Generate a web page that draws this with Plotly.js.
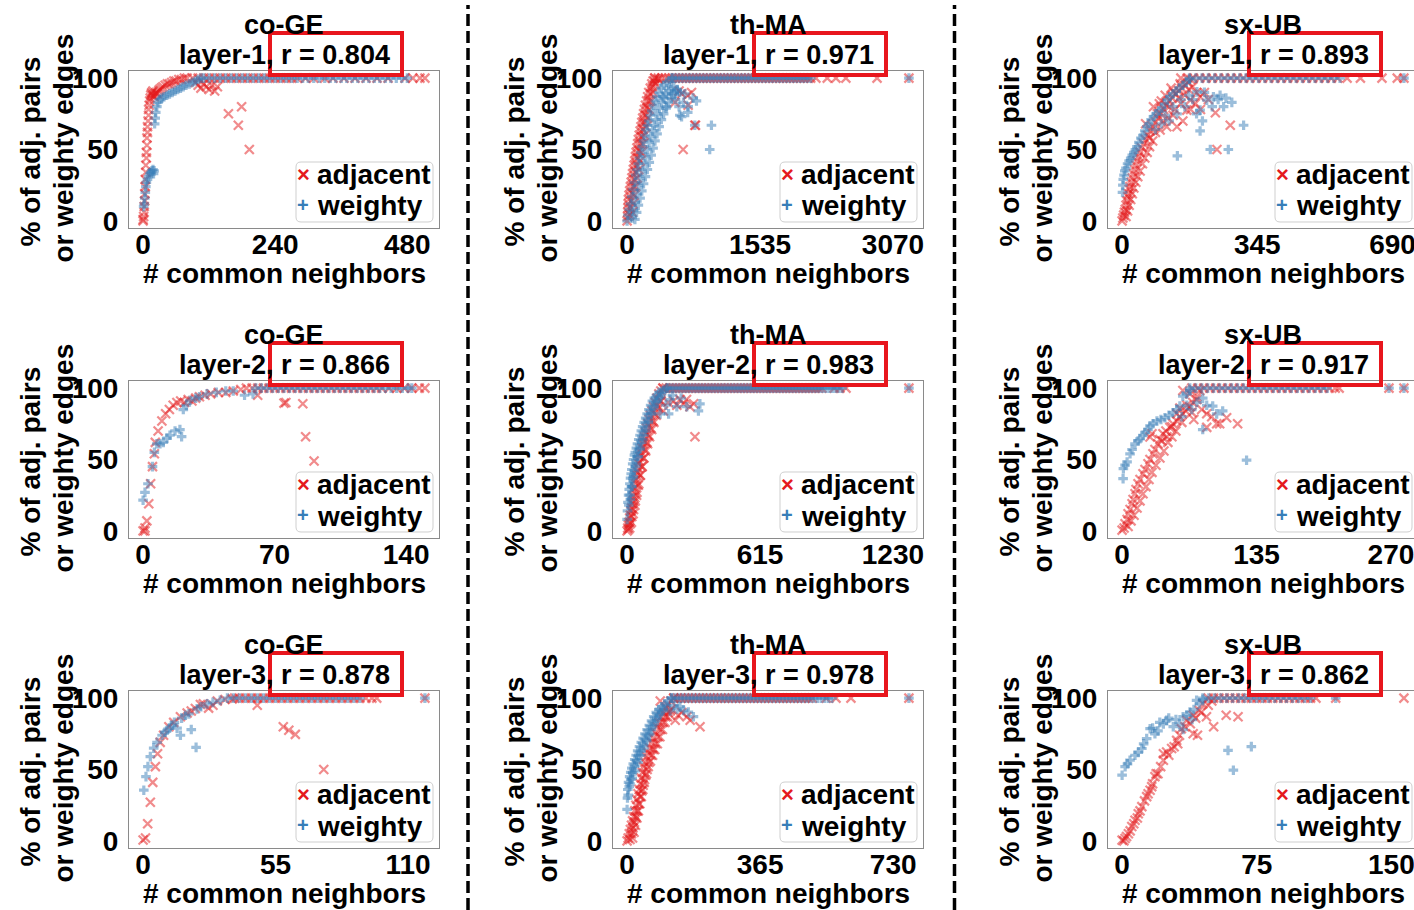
<!DOCTYPE html>
<html><head><meta charset="utf-8">
<script src="https://cdn.plot.ly/plotly-3.0.1.min.js"></script>
<style>html,body{margin:0;padding:0;overflow:hidden;background:#fff}#chart{width:1418px;height:910px}</style>
</head><body><div id="chart"></div>
<script>
// ---------------- DATA ----------------
const datasets = ['co-GE', 'th-MA', 'sx-UB'];
const layerNames = ['layer-1', 'layer-2', 'layer-3'];
const rCoGE = [0.804, 0.866, 0.878];
const rThMA = [0.971, 0.983, 0.978];
const rSxUB = [0.893, 0.917, 0.862];
const ticksCoGE = [[0, 240, 480], [0, 70, 140], [0, 55, 110]];
const ticksThMA = [[0, 1535, 3070], [0, 615, 1230], [0, 365, 730]];
const ticksSxUB = [[0, 345, 690], [0, 135, 270], [0, 75, 150]];
const yTicks = [0, 50, 100];
const seriesNames = ['adjacent', 'weighty'];
const xTitle = '# common neighbors';
const yTitleLines = ['% of adj. pairs', 'or weighty edges'];

// co-GE layer-1
const coGE1AdjX = [0,0,1,2,2,3,3,4,4,5,5,6,6,7,7,8,8,9,10,10,11,12,13,14,15,16,18,18,20,22,24,26,28,30,33,36,40,44,48,52,56,60,65,70,75,
  95,100,105,110,115,120,125,130,135, 155,173,179,193,
  80,90,100,110,120,130,140,150,160,170,180,190,200,210,220,230,240,250,260,270,280,295,310,330,345,365,385,405,425,445,476,490,503,512];
const coGE1AdjY = [0,1,3,6,10,14,19,24,29,34,39,44,48,53,58,62,66,70,74,78,81,84,86,88,89,90,88,91,87,89,90,89,91,92,93,94,95,96,96,97,98,98,99,99,100,
  97,95,93,96,94,92,95,91,94, 75,67,80,50,
  100,100,100,100,100,100,100,100,100,100, 100,100,100,100,100,100,100,100,100,100, 100,100,100,100,100,100,100,100,100,100, 100,100,100,100];
const coGE1WgtX = [1,2,3,4,5,6,8,10,12,14,16,18,20,19, 21,22,23,25,27,30,34,38,43,48,53,58,63,68,73,78,84,90,95,100,105,
  110,120,130,140,150,160,170,180,190,200,210,220,230,240,250,260,270,280,290,300,310,320,330,340,350,360,370,380,390,400,410,420,430,440,450,460,470,480];
const coGE1WgtY = [10,12,16,20,24,27,29,31,33,34,35,36,35,33, 68,72,76,80,83,85,86,87,88,89,90,91,92,93,94,95,96,97,98,99,100,
  100,100,100,100,100,100,100,100,100,100, 100,100,100,100,100,100,100,100,100,100, 100,100,100,100,100,100,100,100,100,100, 100,100,100,100,100,100,100,100];

// co-GE layer-2
const coGE2AdjX = [0,1,1,2,3,4,5,6,6.5,8,10,12,14,16,18,20,22,24,26,28,30,33,36,40,44,48,52,
  61,75,76,85,86.5,91,
  55,58,61,64,67,70,73,76,79,82,85,88,91,94,97,100,103,106,109,112,115,118,121,124,127,131,135,139,143,147,150];
const coGE2AdjY = [0,2,0,7,19,33,45,54,62,70,77,82,85,88,90,91,90,92,91,93,94,95,96,97,97,98,99,
  95,89.5,90,89,66,49,
  100,100,100,100,100,100,100,100,100,100, 100,100,100,100,100,100,100,100,100,100, 100,100,100,100,100,100,100,100,100,100, 100];
const coGE2WgtX = [0,1,2.6,5,6,7.3,9,10.8,12.7,14.3,17,19.6,20.5,21.4,23,25,28,30,34,39,44,48,54,58.5,
  60,63,66,69,72,75,78,81,84,87,90,93,96,99,102,105,108,111,114,117,120,123,126,129,132,135,138,141,143];
const coGE2WgtY = [21.5,27,33,45,55,61,61,62,65,67,70,71,66,85,88,91.5,93,94,96,97,98,98,95,96,
  100,100,100,100,100,100,100,100,100,100, 100,100,100,100,100,100,100,100,100,100, 100,100,100,100,100,100,100,100,100];

// co-GE layer-3
const coGE3AdjX = [0,1,1.9,3,4,5.1,6,7.1,8.5,10.7,12.7,15.5,18.3,21.7,23.8,27.2,30.8,34,37,20,25,29,
  47.4,58.2,60.5,63.2,75,
  38,40,42.5,45,47.5,50,52.5,55,57.5,60,62.5,65,67.5,70,72.5,75,77.5,80,82.5,85,87.5,90,92.5,95,97,117];
const coGE3AdjY = [0.6,2,12,27,41,52,61,69,74,80,83,87,89.6,92.7,95.5,93,98,99,99.5,91,96,95,
  95,80,77.5,74.6,50,
  100,100,100,100,100,100,100,100,100,100, 100,100,100,100,100,100,100,100,100,100, 100,100,100,100,100,100];
const coGE3WgtX = [0.3,1.2,2,3,4.4,5.8,7.9,9,10,11,12,13,14.1,15.5,16,17.6,19,20,22,22.4,24,26.6,29,32,
  35,37.5,40,42.5,45,47.5,50,52.5,55,57.5,60,62.5,65,67.5,70,72.5,75,77.5,80,82.5,85,87.5,90,117];
const coGE3WgtY = [35.5,45,52,59,65,69,74,76,77.5,79,81,83,79,74,86,88,89,78,65.5,92.5,94,96,97,98.4,
  100,100,100,100,100,100,100,100,100,100, 100,100,100,100,100,100,100,100,100,100, 100,100,100,100];

// th-MA layer-1
const thMA1AdjX = [0,5,8,10,12,15,22,30,38,47,55,63,72,80,88,96,104,113,122,130,140,150,160,170,180,190,200,212,225,238,250,268,285,300,320,
  60,70,85,100,118,135,152,168,185,200,218,236,255,275,298,325,360,
  30,40,52,64,76,88,100,113,126,140,154,168,182,198,214,232,250,270,292,316,
  552,629,705,744,647,782,790,700,600,
  320,360,400,440,480,520,560,600,640,680,720,760,800,840,880,920,960,1000,1040,1080,1120,1160,1200,1240,1280,1320,1360,1400,1440,1480,
  1520,1560,1600,1640,1680,1720,1760,1800,1840,1880,1920,1960,2000,2040,2080,2120,2180,2311,2411,2526,2886,3254];
const thMA1AdjY = [0,3,6,9,12,15,18,21,24,27,30,33,36,39,42,45,48,51,54,57,60,63,66,69,72,75,78,81,84,87,90,93,96,98,100,
  6,12,18,24,30,36,42,48,54,60,66,72,78,84,90,96,99,
  4,9,14,19,24,29,34,39,44,49,54,59,64,69,74,79,84,89,94,98,
  83,89,81,90,50,67,67,88,91,
  100,100,100,100,100,100,100,100,100,100, 100,100,100,100,100,100,100,100,100,100, 100,100,100,100,100,100,100,100,100,100,
  100,100,100,100,100,100,100,100,100,100, 100,100,100,100,100,100,100,100,100,100, 100,100];
const thMA1WgtX = [0,10,25,40,55,70,85,100,115,130,145,160,175,190,205,220,235,250,268,285,305,325,345,370,395,425,455,490,520,
  60,75,95,115,135,155,175,195,215,235,255,275,295,315,335,355,375,400,425,450,480,510,540,
  90,110,130,150,170,190,212,234,256,278,300,322,346,370,396,422,450,480,510,545,580,
  414,456,514,609,667,762,801,629,705,782,974,954,609,560,600,650,700,580,
  520,560,600,640,680,720,760,800,840,880,920,960,1000,1040,1080,1120,1160,1200,1240,1280,1320,1360,1400,1440,1480,1520,1560,1600,1640,1680,
  1720,1760,1800,1840,1880,1920,1960,2000,2040,2080,2120,3254];
const thMA1WgtY = [0,4,8,12,17,22,27,32,36,40,44,48,52,56,60,64,67,70,74,77,81,84,87,90,93,95,97,98,100,
  2,7,13,19,25,30,35,40,45,50,55,59,63,67,71,75,79,83,86,89,91,93,94,
  1,6,11,16,21,26,31,36,41,46,51,56,61,66,71,75,79,83,86,89,91,
  87,80,89,90,89,86,84,73,80,67,67,50,74,85,80,83,76,92,
  100,100,100,100,100,100,100,100,100,100, 100,100,100,100,100,100,100,100,100,100, 100,100,100,100,100,100,100,100,100,100,
  100,100,100,100,100,100,100,100,100,100, 100,100];

// th-MA layer-2
const thMA2AdjX = [0,3,6,9,12,15,18,21,24,27,30,33,36,39,42,45,48,51,54,57,60,64,68,72,76,80,85,90,96,102,108,115,122,130,138,147,156,166,
  12,20,28,36,44,52,60,68,76,84,92,100,110,120,130,142,155,
  6,14,22,30,38,46,54,62,70,78,86,95,104,114,124,135,146,158,
  168,215,261,291,308,314,245,230,190,275,
  166,181,196,211,226,241,256,271,286,301, 316,331,346,361,376,391,406,421,436,451, 466,481,496,511,526,541,556,571,586,601,
  616,631,646,661,676,691,706,721,736,751, 766,781,796,811,826,841,856,871,886,901, 958,985,1013,1304];
const thMA2AdjY = [0,2,4,6,9,11,14,16,19,21,24,27,30,33,36,39,41,44,47,49,52,55,58,61,63,66,69,72,75,78,81,84,87,90,93,96,98,100,
  2,6,12,18,25,32,39,45,51,57,62,67,72,77,82,87,91,
  1,5,10,15,21,27,33,39,45,51,56,61,66,71,76,81,86,91,
  84,91,89,87,89,66,92,88,90,92,
  100,100,100,100,100,100,100,100,100,100, 100,100,100,100,100,100,100,100,100,100, 100,100,100,100,100,100,100,100,100,100,
  100,100,100,100,100,100,100,100,100,100, 100,100,100,100,100,100,100,100,100,100, 100,100,100,100];
const thMA2WgtX = [0,2,4,7,10,13,16,19,22,26,30,34,38,43,48,54,60,66,72,79,86,93,101,109,117,126,136,148,160,172,185,
  15,22,30,40,50,60,72,85,98,112,126,140,155,
  8,14,20,27,34,42,50,59,68,78,88,99,110,122,134,147,160,
  153,192,230,276,330,337,199,210,250,180,
  185,200,215,230,245,260,275,290,305,320, 335,350,365,380,395,410,425,440,455,470, 485,500,515,530,545,560,575,590,605,620,
  635,650,665,680,695,710,725,740,755,770, 785,800,815,830,845,860,875,890,905,920, 935,950,965,980,995,1304];
const thMA2WgtY = [8,14,20,25,29,33,37,40,43,47,50,53,55,58,61,64,67,70,73,76,79,82,85,88,91,93,95,97,98,99,100,
  22,31,38,45,52,58,64,70,76,82,87,91,94,
  18,25,31,37,42,47,52,57,62,67,72,77,82,86,90,93,96,
  82,82,87,87,84,89,92,95,93,88,
  100,100,100,100,100,100,100,100,100,100, 100,100,100,100,100,100,100,100,100,100, 100,100,100,100,100,100,100,100,100,100,
  100,100,100,100,100,100,100,100,100,100, 100,100,100,100,100,100,100,100,100,100, 100,100,100,100,100,100];

// th-MA layer-3
const thMA3AdjX = [0,3,6,9,12,15,18,21,24,27,30,33,36,39,42,45,49,53,57,62,67,72,77,82,88,94,100,106,112,120,128,
  15,19,23,27,31,35,39,43,47,51,55,60,66,72,78,85,92,99,106,113,
  8,12,16,20,24,28,32,36,40,44,48,53,58,64,70,76,83,90,97,104,111,118,
  91,132,164,173,200,150,140,120,
  128,138,148,158,168,178,188,198,208,218, 228,238,248,258,268,278,288,298,308,318, 328,338,348,358,368,378,388,398,408,418,
  428,438,448,458,468,478,488,498,508, 546,573,614,773];
const thMA3AdjY = [0,2,5,8,11,14,17,21,25,29,33,36,40,44,48,52,55,59,62,65,69,72,76,80,83,87,90,93,95,98,100,
  2,6,11,16,21,26,31,36,41,46,50,55,60,64,68,73,78,83,87,90,
  1,5,9,13,17,21,26,31,35,39,43,47,52,56,60,64,68,73,78,83,87,91,
  98,84.5,87,84.5,80,90,88,92,
  100,100,100,100,100,100,100,100,100,100, 100,100,100,100,100,100,100,100,100,100, 100,100,100,100,100,100,100,100,100,100,
  100,100,100,100,100,100,100,100,100, 100,100,100,100];
const thMA3WgtX = [0,1,2,4,7,10,13,17,21,25,29,34,39,44,49,55,61,67,73,80,87,95,103,112,122,
  8,14,22,30,38,46,54,62,70,78,86,94,
  3,6,10,15,20,26,32,38,45,52,59,66,74,82,90,99,108,
  137,155,168,182,118,128,145,
  122,132,142,152,162,172,182,192,202,212, 222,232,242,252,262,272,282,292,302,312, 322,332,342,352,362,372,382,392,402,412,
  422,432,442,452,462,472,482,492,502,512, 522,532,542,552,562,773];
const thMA3WgtY = [22,30,36,41,45,48,51,54,57,60,63,66,69,72,75,78,81,84,87,90,92,94,96,98,100,
  40,44,49,55,60,65,70,75,80,84,88,91,
  32,38,43,48,52,56,60,63,67,71,74,78,82,86,89,92,95,
  92.5,91.4,90.3,87,91,95,94,
  100,100,100,100,100,100,100,100,100,100, 100,100,100,100,100,100,100,100,100,100, 100,100,100,100,100,100,100,100,100,100,
  100,100,100,100,100,100,100,100,100,100, 100,100,100,100,100,100];

// sx-UB layer-1
const sxUB1AdjX = [0,2,4,6,8,10,12,14,16,18,20,23,26,29,32,35,38,42,46,50,55,60,66,72,78,85,92,99,106,113,120,128,136,144,152,160,168,175,
  10,14,18,22,26,30,35,40,46,52,58,64,70,78,
  114,97,140,165,174,187,199,131,238,276,242,148,80,90,105,120,130,150,160,170,180,190,100,110,125,60,70,85,135,155,175,200,210,220,95,145,118,
  150,166,182,198,214,230,246,262,278,294,310,326,342,358,374,390,406,422,438,454,470,486,502,518,534,550,574,608,663,702,719];
const sxUB1AdjY = [0,2,4,6,8,11,14,17,19,22,24,27,30,33,36,39,42,45,48,51,54,57,60,63,66,69,72,75,78,81,84,86,89,91,93,95,97,99,
  3,7,11,15,19,23,27,31,35,40,44,48,52,56,
  66,63.6,66,77.6,84.6,82.3,86.9,90.4,75.7,67,50,96,80,75,70,80,74,82,88,92,94,90,84,88,93,68,58,62,78,70,78,78,90,85,82,86,72,
  100,100,100,100,100,100,100,100,100,100, 100,100,100,100,100,100,100,100,100,100, 100,100,100,100,100,100,100,100,100,100, 100];
const sxUB1WgtX = [1,2,3,5,7,10,14,18,22,26,30,34,38,43,48,53,58,63,68,74,80,87,94,101,108,115,122,130,138,146,155,164,172,
  199,216,233,259,199,310,225,271,141,191,180,160,140,120,100,85,150,170,210,230,250,190,130,110,245,205,265,280,
  172,188,204,220,236,252,268,284,300,316,332,348,364,380,396,412,428,444,460,476,492,508,524,540,556,719];
const sxUB1WgtY = [20,25,29,32,35,37,40,42,44,46,48,50,52,55,58,60,63,66,68,71,73,75,77,79,82,85,87,89,91,93,95,97,99,
  77.6,84.6,86.9,80,63,67,50,50,45.5,90.4,85,80,75,70,68,64,85,88,90,80,88,75,80,74,85,70,86,83,
  100,100,100,100,100,100,100,100,100,100, 100,100,100,100,100,100,100,100,100,100, 100,100,100,100,100,100];

// sx-UB layer-2
const sxUB2AdjX = [0,2,3,5,6,8,10,11,13,14,16,18,21,23,26,28,31,33,36,38,41,44,48,51,55,58,61,64,68,71,75,78,61,
  6,9,12,15,18,21,24,27,30,34,38,42,46,50,54,
  85,85,95,98,105,116,28,30,40,45,50,55,60,65,70,72,80,90,75,68,58,
  70,76,82,88,94,100,106,112,118,124,130,136,142,148,154,160,166,172,178,184,190,196,202,208,214,218,268,283];
const sxUB2AdjY = [0.5,2,5,8,12,15,19,22,26,29,33,36,40,43,47,50,54,57,61,64,68,70,72.5,75,77,80,82,84,87,90,94,98.4,98.4,
  3,7,11,16,21,26,31,36,41,46,51,56,62,66,70,
  82,72.5,75,75,79.3,75,65.7,68,63,66,73,82,76,88,83,78,85,80,92,96,86,
  100,100,100,100,100,100,100,100,100,100, 100,100,100,100,100,100,100,100,100,100, 100,100,100,100,100,100,100,100];
const sxUB2WgtX = [1,1.3,3,5,8,10,13,16,18,21,23,26,28,31,35,39,43,47,51,55,58,61,65,68,
  81,91,101,81,125,75,70,85,95,60,65,
  68,74,80,86,92,98,104,110,116,122,128,134,140,146,152,158,164,170,176,182,188,194,200,206,268,283];
const sxUB2WgtY = [36.6,43.6,46,48.3,54,57,61,63,64.5,67,69,71,73.6,75,77,78,79.3,81,82.8,85,87.4,94.4,96,98.4,
  93,87.4,84,71,49.5,90,85,88,82,80,88,
  100,100,100,100,100,100,100,100,100,100, 100,100,100,100,100,100,100,100,100,100, 100,100,100,100,100,100];

// sx-UB layer-3
const sxUB3AdjX = [0,1,1.7,2.5,3.5,4.5,5.4,6.5,7.2,8.5,9,10,11,12.5,13.7,14.5,15.6,16.5,17,18.3,19,20,21.5,23,23,24.8,26,27.6,29,30.4,31,32,33,35,36,38,39.6,39.6,41,42,43,44,45,47,48,50,51,58,64.6,
  48,51,54,57,60,63,66,69,72,75,78,81,84,87,90,93,96,99,102,105,108,119,157];
const sxUB3AdjY = [0.5,0,1.7,3,5,7,10,12,14.5,16,19,21,24,28,31,33,35.5,38,40,45,47,47,52,56.5,61,62.3,60,64.7,66,70.4,68,74,78.6,80,84.4,82,88,75,86,74,91.4,90,96,87,95,98,80,88,87,
  100,100,100,100,100,100,100,100,100,100, 100,100,100,100,100,100,100,100,100,100, 100,100,100];
const sxUB3WgtX = [0,1.7,3,4.4,7.2,9,11,12,13.7,15.6,17,18.3,20,21,23,24.8,26,28.5,30,32,34,34,36,37.8,39,40,41.5,43,45,59,62,72,
  45,48.3,51.6,55,58.3,61.6,65,68.3,71.6,75,78.3,81.6,85,88.3,91.6,95,98.3,101.6,105,119];
const sxUB3WgtY = [46,52,54,56.5,60,62,64.7,68,71.6,78.6,79,75,77,83,82,84.5,86,80,85,82,87,78,88,90.3,85,92,98.4,96,99,63.4,49.5,66,
  100,100,100,100,100,100,100,100,100,100, 100,100,100,100,100,100,100,100,100,100];

// ---------------- BUILD ----------------
const panelData = [
  [[coGE1AdjX, coGE1AdjY, coGE1WgtX, coGE1WgtY], [coGE2AdjX, coGE2AdjY, coGE2WgtX, coGE2WgtY], [coGE3AdjX, coGE3AdjY, coGE3WgtX, coGE3WgtY]],
  [[thMA1AdjX, thMA1AdjY, thMA1WgtX, thMA1WgtY], [thMA2AdjX, thMA2AdjY, thMA2WgtX, thMA2WgtY], [thMA3AdjX, thMA3AdjY, thMA3WgtX, thMA3WgtY]],
  [[sxUB1AdjX, sxUB1AdjY, sxUB1WgtX, sxUB1WgtY], [sxUB2AdjX, sxUB2AdjY, sxUB2WgtX, sxUB2WgtY], [sxUB3AdjX, sxUB3AdjY, sxUB3WgtX, sxUB3WgtY]]
];
const rAll = [rCoGE, rThMA, rSxUB];
const ticksAll = [ticksCoGE, ticksThMA, ticksSxUB];

const W = 1418, H = 910;
const colLeft = [129, 613, 1108], boxW = 310;
const rowTop = [71, 381, 691], boxH = 157;
const px = v => v / W, py = v => 1 - v / H;
const FONT = 'Liberation Sans, Arial, Helvetica, sans-serif';
const RED = '#e41a1c', BLUE = '#377eb8';
const bold = (size, color) => ({family: FONT, size: size, color: color || '#000', weight: 'bold'});

function roundRectPath(x0, y0, x1, y1, rad) {
  const P = (x, y) => px(x).toFixed(6) + ',' + py(y).toFixed(6);
  return 'M' + P(x0 + rad, y0) + ' L' + P(x1 - rad, y0) + ' Q' + P(x1, y0) + ' ' + P(x1, y0 + rad) +
    ' L' + P(x1, y1 - rad) + ' Q' + P(x1, y1) + ' ' + P(x1 - rad, y1) +
    ' L' + P(x0 + rad, y1) + ' Q' + P(x0, y1) + ' ' + P(x0, y1 - rad) +
    ' L' + P(x0, y0 + rad) + ' Q' + P(x0, y0) + ' ' + P(x0 + rad, y0) + ' Z';
}

const traces = [];
const layout = {
  width: W, height: H, margin: {l: 0, r: 0, t: 0, b: 0},
  paper_bgcolor: '#fff', plot_bgcolor: '#fff', showlegend: false,
  annotations: [], shapes: [], font: bold(28)
};
const ann = (o) => layout.annotations.push(Object.assign({xref: 'paper', yref: 'paper', showarrow: false,
  xanchor: 'center', yanchor: 'middle'}, o));

for (let c = 0; c < 3; c++) {
  for (let r = 0; r < 3; r++) {
    const k = c * 3 + r + 1;
    const [ax, ay, wx, wy] = panelData[c][r];
    const L = colLeft[c], T = rowTop[r], R = L + boxW, B = T + boxH;
    const cx = L + boxW / 2;
    const xKey = 'x' + k, yKey = 'y' + k;
    traces.push({
      type: 'scatter', mode: 'markers', x: ax, y: ay, xaxis: xKey, yaxis: yKey,
      name: seriesNames[0], hoverinfo: 'skip',
      marker: {symbol: 'x-thin', size: 9, color: RED, opacity: 0.5, line: {width: 2.2, color: RED}}
    });
    traces.push({
      type: 'scatter', mode: 'markers', x: wx, y: wy, xaxis: xKey, yaxis: yKey,
      name: seriesNames[1], hoverinfo: 'skip',
      marker: {symbol: 'cross', size: 8, color: BLUE, opacity: 0.5, line: {width: 0}}
    });
    const xmax = Math.max(...ax, ...wx);
    const ymin = Math.min(...yTicks), ymaxv = Math.max(...yTicks);
    const ypad = 0.05 * (ymaxv - ymin);
    const xt = ticksAll[c][r];
    layout['xaxis' + k] = {
      domain: [px(L), px(R)], anchor: yKey, range: [-0.05 * xmax, 1.05 * xmax],
      tickvals: xt, ticktext: xt.map(String), ticks: '', showgrid: false, zeroline: false,
      showline: true, mirror: true, linecolor: '#8a8a8a', linewidth: 1,
      tickfont: bold(28), ticklabelstandoff: -9
    };
    layout['yaxis' + k] = {
      domain: [py(B), py(T)], anchor: xKey, range: [ymin - ypad, ymaxv + ypad],
      tickvals: yTicks, ticktext: yTicks.map(String), ticks: '', showgrid: false, zeroline: false,
      showline: true, mirror: true, linecolor: '#8a8a8a', linewidth: 1,
      tickfont: bold(28), ticklabelstandoff: 4
    };
    // titles
    ann({text: datasets[c], x: px(cx), y: py(T - 46), font: bold(27)});
    ann({text: layerNames[r] + ', r = ' + rAll[c][r].toFixed(3), x: px(cx), y: py(T - 16), font: bold(27)});
    // axis titles
    ann({text: xTitle, x: px(cx), y: py(B + 45), font: bold(28)});
    ann({text: yTitleLines[0], x: px(L - 99), y: py(T + boxH / 2 + 2), textangle: -90, font: bold(28)});
    ann({text: yTitleLines[1], x: px(L - 66), y: py(T + boxH / 2 - 1), textangle: -90, font: bold(28)});
    // legend (drawn box + entries)
    layout.shapes.push({type: 'path', xref: 'paper', yref: 'paper', layer: 'above',
      path: roundRectPath(R - 143, B - 66, R - 6, B - 6, 5),
      fillcolor: 'rgba(255,255,255,0.8)', line: {color: '#cfcfcf', width: 1}});
    ann({text: '\u00d7', x: px(R - 136), y: py(B - 54), font: bold(22, RED)});
    ann({text: '+', x: px(R - 136), y: py(B - 23), font: bold(20, BLUE)});
    ann({text: seriesNames[0], x: px(R - 124), y: py(B - 54), xanchor: 'left', font: bold(28)});
    ann({text: seriesNames[1], x: px(R - 124), y: py(B - 22), xanchor: 'left', font: bold(28)});
    // red highlight box
    layout.shapes.push({type: 'rect', xref: 'paper', yref: 'paper', layer: 'above',
      x0: px(cx - 14), x1: px(cx + 118), y0: py(T + 4), y1: py(T - 38),
      line: {color: '#e8161d', width: 4}, fillcolor: 'rgba(0,0,0,0)'});
  }
}
// vertical dashed separators
[468, 954.5].forEach(xv => layout.shapes.push({type: 'line', xref: 'paper', yref: 'paper',
  x0: px(xv), x1: px(xv), y0: 0, y1: py(5), line: {color: '#000', width: 3.5, dash: '12px,5px'}}));

Plotly.newPlot('chart', traces, layout, {staticPlot: true, displayModeBar: false});
</script></body></html>
